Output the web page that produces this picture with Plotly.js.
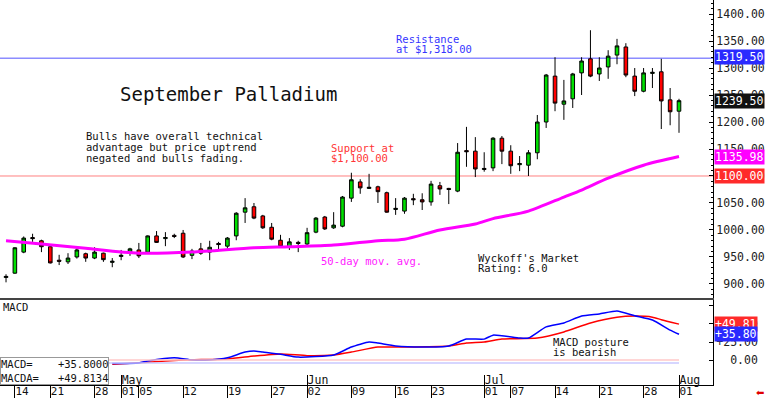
<!DOCTYPE html>
<html>
<head>
<meta charset="utf-8">
<script src="https://cdn.plot.ly/plotly-3.0.1.min.js"></script>
<style>html,body{margin:0;padding:0;background:#fff;}#chart{width:768px;height:398px;}</style>
</head>
<body>
<div id="chart"></div>
<script>
const dates = [
 '2025-04-11','2025-04-14','2025-04-15','2025-04-16','2025-04-17',
 '2025-04-21','2025-04-22','2025-04-23','2025-04-24','2025-04-25',
 '2025-04-28','2025-04-29','2025-04-30','2025-05-01','2025-05-02',
 '2025-05-05','2025-05-06','2025-05-07','2025-05-08','2025-05-09',
 '2025-05-12','2025-05-13','2025-05-14','2025-05-15','2025-05-16',
 '2025-05-19','2025-05-20','2025-05-21','2025-05-22','2025-05-23',
 '2025-05-27','2025-05-28','2025-05-29','2025-05-30',
 '2025-06-02','2025-06-03','2025-06-04','2025-06-05','2025-06-06',
 '2025-06-09','2025-06-10','2025-06-11','2025-06-12','2025-06-13',
 '2025-06-16','2025-06-17','2025-06-18','2025-06-20',
 '2025-06-23','2025-06-24','2025-06-25','2025-06-26','2025-06-27',
 '2025-06-30','2025-07-01','2025-07-02','2025-07-03',
 '2025-07-07','2025-07-08','2025-07-09','2025-07-10','2025-07-11',
 '2025-07-14','2025-07-15','2025-07-16','2025-07-17','2025-07-18',
 '2025-07-21','2025-07-22','2025-07-23','2025-07-24','2025-07-25',
 '2025-07-28','2025-07-29','2025-07-30','2025-07-31','2025-08-01'
];
const open  = [912,920,959,986,980, 969,944,941,950,956, 948,957,940,951,959, 963,959,989,984,990, 994,953,965,959,975, 970,989,1033,1043,1026, 1005,981,969,977, 974,996,1024,1004,1007, 1059,1089,1077,1080,1069, 1038,1035,1058,1056, 1052,1082,1077,1072,1147, 1146,1112,1115,1170, 1146,1121,1120,1143,1200, 1285,1233,1243,1291,1317, 1289,1302,1324,1339,1285, 1257,1290,1293,1241,1220];
const high  = [918,968,988,993,982, 970,954,957,966,958, 968,958,948,963,967, 976,990,998,996,993, 1000,965,976,980,978, 987,1033,1059,1050,1028, 1013,991,985,980, 1004,1024,1026,1033,1063, 1106,1094,1104,1082,1071, 1059,1061,1067,1068, 1091,1089,1078,1161,1191, 1172,1144,1172,1174, 1157,1137,1148,1213,1289, 1320,1278,1291,1320,1370, 1320,1333,1354,1346,1300, 1300,1300,1317,1263,1243];
const low   = [903,919,957,978,959, 938,935,937,947,941, 946,941,931,944,952, 948,957,976,970,985, 948,946,954,944,963, 965,981,1013,1020,1002, 981,967,963,959, 970,994,1000,1002,1005, 1052,1067,1076,1050,1032, 1028,1030,1046,1037, 1045,1065,1048,1070,1117, 1098,1108,1109,1122, 1104,1109,1100,1131,1189, 1220,1204,1226,1250,1283, 1276,1280,1307,1283,1248, 1255,1263,1187,1194,1180];
const close = [914,967,985,984,969, 939,942,948,963,948, 959,945,942,953,965, 952,989,977,986,988, 950,961,957,968,973, 985,1031,1041,1022,1004, 983,969,978,975, 995,1022,1002,1009,1061, 1093,1078,1079,1071,1033, 1040,1059,1056,1052, 1085,1076,1075,1144,1145, 1113,1114,1170,1146, 1119,1123,1143,1200,1287, 1235,1239,1289,1313,1285, 1300,1322,1341,1287,1257, 1291,1292,1239,1219,1239.5];

const maDates  = ['2025-04-11','2025-04-17','2025-04-25','2025-05-05','2025-05-13','2025-05-22','2025-05-29','2025-06-05','2025-06-12','2025-06-17','2025-06-24','2025-06-30','2025-07-02','2025-07-09','2025-07-15','2025-07-17','2025-07-22','2025-07-28','2025-08-01'];
const maValues = [980,974,966,957,959,967,969,972,980,983,1000,1011,1021,1035,1061,1074,1096,1120,1135.98];

const macdDates  = ['2025-04-30','2025-05-05','2025-05-06','2025-05-09','2025-05-13','2025-05-15','2025-05-19','2025-05-21','2025-05-22','2025-05-23','2025-05-28','2025-05-30','2025-06-05','2025-06-09','2025-06-11','2025-06-12','2025-06-16','2025-06-20','2025-06-25','2025-06-27','2025-07-01','2025-07-02','2025-07-08','2025-07-09','2025-07-11','2025-07-15','2025-07-17','2025-07-21','2025-07-23','2025-07-25','2025-07-29','2025-07-31','2025-08-01'];
const macdValues = [-5,-4,-1.5,3,0,0,3,11,12.5,11,8,4,7,18,25,23.5,19.5,18,19.5,29,29,34.5,30.5,30.5,46,51.5,61,64,68,61.5,55.5,41.5,35.8];
const signalDates  = ['2025-04-30','2025-05-06','2025-05-12','2025-05-19','2025-05-22','2025-05-28','2025-06-02','2025-06-05','2025-06-09','2025-06-12','2025-06-17','2025-06-25','2025-06-27','2025-07-01','2025-07-03','2025-07-10','2025-07-15','2025-07-18','2025-07-23','2025-07-25','2025-07-29','2025-07-30','2025-08-01'];
const signalValues = [-6,-3,0,1.5,5.5,8.5,6,7,11,18,18,19.5,23.5,25,29,30.5,39,51.5,59.5,61,59.5,56,49.81];

const weekTickDates  = ['2025-04-14','2025-04-21','2025-04-28','2025-05-01','2025-05-05','2025-05-12','2025-05-19','2025-05-27','2025-06-02','2025-06-09','2025-06-16','2025-06-23','2025-07-01','2025-07-07','2025-07-14','2025-07-21','2025-07-28','2025-08-01'];
const weekTickLabels = ['14','21','28','01','05','12','19','27','02','09','16','23','01','07','14','21','28','01'];
const monthTickDates  = ['2025-05-01','2025-06-02','2025-07-01','2025-08-01'];
const monthTickLabels = ['May','Jun','Jul','Aug'];
const priceTicks = [900,950,1000,1050,1100,1150,1200,1250,1300,1350,1400];
const macdTicks = [-25,0,25,50,75];
const macdTickLabels = ['','\u00a0\u00a00.00','+25.00','+50.00',''];
const resistanceLevel = [1318];
const resistanceTag = [1319.5];
const supportLevel = [1100];
const zeroLevels = [0, -4];

const idx = d => dates.indexOf(d);
const xs = dates.map((d, i) => i);
const n = dates.length;
const xr = [-0.68, 79.84];
const MONO = 'DejaVu Sans Mono';

const traces = [
  {type:'candlestick', x: xs, open, high, low, close, xaxis:'x', yaxis:'y',
   increasing:{line:{color:'#000', width:1}, fillcolor:'#00e000'},
   decreasing:{line:{color:'#000', width:1}, fillcolor:'#ff0000'},
   whiskerwidth:0, hoverinfo:'skip'},
  {type:'scatter', mode:'lines', x: maDates.map(idx), y: maValues, xaxis:'x', yaxis:'y',
   line:{color:'#ff00ff', width:3, shape:'spline', smoothing:0.8}, hoverinfo:'skip'},
  {type:'scatter', mode:'lines', x:[0, n-1], y:[zeroLevels[0], zeroLevels[0]], xaxis:'x3', yaxis:'y2',
   line:{color:'#ffc8c8', width:1.5}, hoverinfo:'skip'},
  {type:'scatter', mode:'lines', x:[0, n-1], y:[zeroLevels[1], zeroLevels[1]], xaxis:'x4', yaxis:'y2',
   line:{color:'#c8c8ff', width:1.5}, hoverinfo:'skip'},
  {type:'scatter', mode:'lines', x: signalDates.map(idx), y: signalValues, xaxis:'x2', yaxis:'y2',
   line:{color:'#ff0000', width:1.5, shape:'spline', smoothing:0.5}, hoverinfo:'skip'},
  {type:'scatter', mode:'lines', x: macdDates.map(idx), y: macdValues, xaxis:'x2', yaxis:'y2',
   line:{color:'#0000ff', width:1.5, shape:'spline', smoothing:0.5}, hoverinfo:'skip'}
];

const W = 713, H = 385;
const px = v => v / W;
const py = v => 1 - v / H;
function txt(text, x, y, color, size, extra) {
  return Object.assign({text, xref:'paper', yref:'paper', x: px(x), y: py(y), xanchor:'left', yanchor:'middle',
    showarrow:false, font:{family:MONO, size: size || 10.5, color: color || '#111'}}, extra || {});
}
function tag(text, yref, y, bg) {
  return {text, xref:'paper', yref, x:1, y, xanchor:'left', yanchor:'middle', xshift:1, showarrow:false,
    bgcolor:bg, borderpad:0, font:{family:MONO, size:11.5, color:'#fff'}};
}
const lastClose = close[n-1];
const lastMa = maValues[maValues.length-1];
const lastMacd = macdValues[macdValues.length-1];
const lastSignal = signalValues[signalValues.length-1];
const sgn = v => (v >= 0 ? '+' : '') + v.toFixed(2);

const annotations = [
  txt('September Palladium', 118, 94, '#111', 19),
  txt('Bulls have overall technical', 84, 136),
  txt('advantage but price uptrend', 84, 147),
  txt('negated and bulls fading.', 84, 158),
  txt('Resistance', 394, 39, '#3535ff'),
  txt('at $1,318.00', 394, 49, '#3535ff'),
  txt('Support at', 329, 148, '#ff3535'),
  txt('$1,100.00', 329, 158, '#ff3535'),
  txt('50-day mov. avg.', 319, 261, '#ff20ff'),
  txt("Wyckoff's Market", 476, 258),
  txt('Rating: 6.0', 476, 268),
  txt('MACD posture', 551, 342),
  txt('is bearish', 551, 352),
  txt('MACD', 1, 307),
  {text:'MACD=\u00a0\u00a0\u00a0\u00a0+35.8000<br>MACDA=\u00a0\u00a0\u00a0+49.8134',
   xref:'paper', yref:'paper', x:0, y:0, xanchor:'left', yanchor:'bottom', align:'left', showarrow:false,
   bgcolor:'#fff', bordercolor:'#999', borderwidth:1, borderpad:0, font:{family:MONO, size:10.5, color:'#111'}},
  tag(resistanceTag[0].toFixed(2), 'y', resistanceTag[0], '#2a2aff'),
  tag(lastClose.toFixed(2), 'y', lastClose, '#111'),
  tag(lastMa.toFixed(2), 'y', lastMa, '#ff00ff'),
  tag(supportLevel[0].toFixed(2), 'y', supportLevel[0], '#ff2a2a'),
  tag(sgn(lastSignal), 'y2', lastSignal, '#ff2a2a'),
  tag(sgn(lastMacd), 'y2', lastMacd, '#2a2aff'),
  {text:'\u2B05', xref:'paper', yref:'paper', x:1, y:0, xanchor:'right', yanchor:'top', xshift:53, yshift:0,
   showarrow:false, font:{family:'DejaVu Sans', size:10, color:'#e00000'}}
];

const shapes = [
  {type:'line', xref:'paper', x0:0, x1:1, yref:'y', y0:resistanceLevel[0], y1:resistanceLevel[0], line:{color:'#8c8cff', width:1.5}, layer:'below'},
  {type:'line', xref:'paper', x0:0, x1:1, yref:'y', y0:supportLevel[0], y1:supportLevel[0], line:{color:'#ff8080', width:1}, layer:'below'}
];

const layout = {
  width:768, height:398, margin:{l:0, r:55, t:0, b:13}, showlegend:false,
  paper_bgcolor:'#fff', plot_bgcolor:'#fff', font:{family:MONO, size:11.5, color:'#222'},
  xaxis:{domain:[0,1], anchor:'y', range:xr, showticklabels:false, ticks:'', showgrid:false, zeroline:false,
    showline:true, linecolor:'#444', linewidth:2, rangeslider:{visible:false}, fixedrange:true},
  yaxis:{domain:[(H-298)/H, 1], anchor:'x', side:'right', range:[874, 1426], tickvals:priceTicks,
    ticktext:priceTicks.map(v => (v < 1000 ? '\u00a0' : '') + v.toFixed(2)),
    ticks:'inside', ticklen:4, tickcolor:'#000', showline:true, linecolor:'#000', linewidth:1, showgrid:false, zeroline:false,
    minor:{tickmode:'linear', tick0:0, dtick:10, ticks:'inside', ticklen:2, tickcolor:'#000'},
    tickfont:{family:MONO, size:11.5, color:'#222'}},
  xaxis2:{domain:[0,1], anchor:'y2', range:xr, tickvals:weekTickDates.map(idx), ticktext:weekTickLabels,
    ticks:'', tickangle:0, ticklabelposition:'outside right', ticklabelstandoff:-4,
    showline:true, linecolor:'#000', linewidth:1, showgrid:false, zeroline:false,
    tickfont:{family:MONO, size:11, color:'#111'}},
  xaxis4:{overlaying:'x2', anchor:'y2', range:xr, tickvals:weekTickDates.map(idx), showticklabels:false,
    ticks:'outside', ticklen:13, tickcolor:'#000', showline:false, showgrid:false, zeroline:false},
  xaxis3:{overlaying:'x2', anchor:'y2', range:xr, tickvals:monthTickDates.map(idx), ticktext:monthTickLabels,
    ticks:'inside', ticklen:10, tickcolor:'#000', tickangle:0, ticklabelposition:'inside right', ticklabelstandoff:-7,
    showline:false, showgrid:false, zeroline:false,
    tickfont:{family:MONO, size:11.5, color:'#111'}},
  yaxis2:{domain:[0, (H-300)/H], anchor:'x2', side:'right', range:[-34.7, 83.3], tickvals:macdTicks, ticktext:macdTickLabels,
    ticks:'inside', ticklen:4, tickcolor:'#000', showline:true, linecolor:'#000', linewidth:1, showgrid:false, zeroline:false,
    tickfont:{family:MONO, size:11.5, color:'#222'}},
  boxgap:0.42,
  annotations, shapes
};

Plotly.newPlot('chart', traces, layout, {staticPlot:true, displayModeBar:false});
</script>
</body>
</html>
